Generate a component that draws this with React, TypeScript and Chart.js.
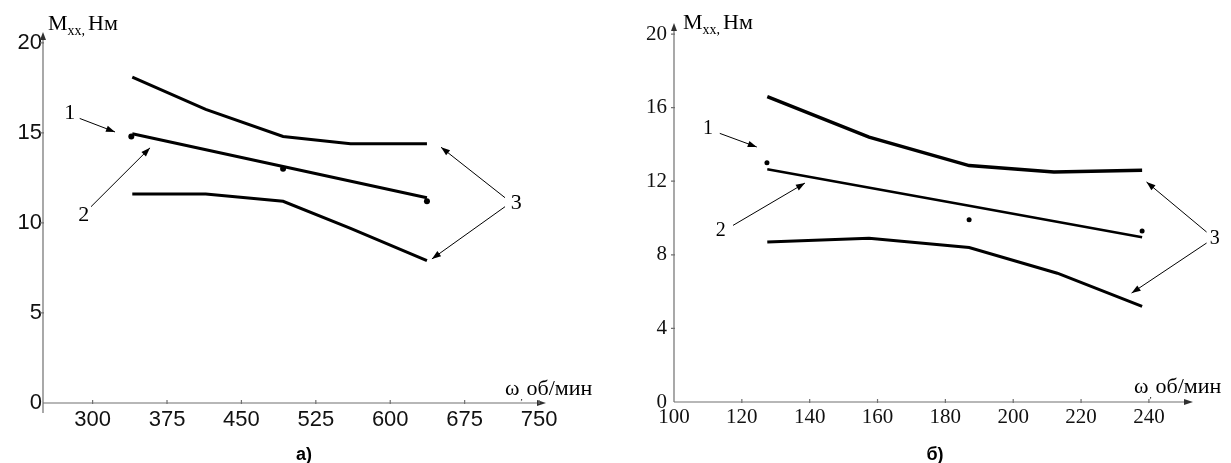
import React, { useEffect, useRef } from "react";
import { Chart, registerables } from "chart.js";
Chart.register(...registerables);

// ---------- Panel а) ----------
const aTicksX = [300, 375, 450, 525, 600, 675, 750];
const aTicksY = [0, 5, 10, 15, 20];
const aUpperX = [340, 414, 492, 560, 637];
const aUpperY = [18.1, 16.3, 14.8, 14.4, 14.4];
const aMidX = [340, 492, 637];
const aMidY = [14.95, 13.13, 11.4];
const aLowerX = [340, 414, 492, 560, 637];
const aLowerY = [11.6, 11.6, 11.2, 9.7, 7.9];
const aDotsX = [339, 492, 637];
const aDotsY = [14.8, 13.0, 11.2];

// ---------- Panel б) ----------
const bTicksX = [100, 120, 140, 160, 180, 200, 220, 240];
const bTicksY = [0, 4, 8, 12, 16, 20];
const bUpperX = [127.5, 157.5, 187, 212, 238];
const bUpperY = [16.6, 14.4, 12.85, 12.5, 12.6];
const bMidX = [127.5, 187, 238];
const bMidY = [12.65, 10.67, 8.95];
const bLowerX = [127.5, 157.5, 187, 213, 238];
const bLowerY = [8.7, 8.9, 8.4, 7.0, 5.2];
const bDotsX = [127.4, 187, 238];
const bDotsY = [13.0, 9.9, 9.3];

const yTitleMain = "М";
const yTitleSub = "хх,";
const yTitleUnit = "Нм";
const xTitleSym = "ω";
const xTitleUnit = "об/мин";

const zip = (xs: number[], ys: number[]) => xs.map((x, i) => ({ x, y: ys[i] }));

type Note = { text: string; at: [number, number]; arrows: [number, number, number, number][] };

interface PanelCfg {
  width: number;
  height: number;
  xMin: number;
  xMax: number;
  yMax: number;
  xTicks: number[];
  yTicks: number[];
  padTop: number;
  padRight: number;
  yAxisWidth: number;
  xAxisHeight: number;
  tickFamily: string;
  tickSize: number;
  xTickPad: number;
  yTickPad: number;
  yAxisExt: number;
  upper: { x: number[]; y: number[]; w: number };
  mid: { x: number[]; y: number[]; w: number };
  lower: { x: number[]; y: number[]; w: number };
  dots: { x: number[]; y: number[]; r: number };
  notes: Note[];
  noteSize: number;
  yTitleDx: number;
  yTitleDy: number;
  xTitleDx: number;
  xTitleDy: number;
  label: string;
  labelX: number;
  labelY: number;
}

const panelA: PanelCfg = {
  width: 615,
  height: 463,
  xMin: 250,
  xMax: 757,
  yMax: 20.6,
  xTicks: aTicksX,
  yTicks: aTicksY,
  padTop: 32,
  padRight: 69,
  yAxisWidth: 43,
  xAxisHeight: 60,
  tickFamily: "'Liberation Sans', Arial, sans-serif",
  tickSize: 22,
  xTickPad: 4,
  yTickPad: 1,
  yAxisExt: 10,
  upper: { x: aUpperX, y: aUpperY, w: 3 },
  mid: { x: aMidX, y: aMidY, w: 3 },
  lower: { x: aLowerX, y: aLowerY, w: 3 },
  dots: { x: aDotsX, y: aDotsY, r: 3 },
  notes: [
    { text: "1", at: [277, 16.1], arrows: [[287, 15.8, 322.6, 15.05]] },
    { text: "2", at: [291, 10.4], arrows: [[298.4, 10.9, 357.9, 14.17]] },
    { text: "3", at: [727, 11.1], arrows: [[715.7, 11.4, 651.2, 14.2], [715.7, 10.9, 642, 8.0]] },
  ],
  noteSize: 22,
  yTitleDx: 5,
  yTitleDy: -2,
  xTitleDx: -41,
  xTitleDy: -8,
  label: "а)",
  labelX: 304,
  labelY: 460,
};

const panelB: PanelCfg = {
  width: 616,
  height: 463,
  xMin: 100,
  xMax: 253,
  yMax: 20.6,
  xTicks: bTicksX,
  yTicks: bTicksY,
  padTop: 23,
  padRight: 38,
  yAxisWidth: 59,
  xAxisHeight: 61,
  tickFamily: "'Liberation Serif', 'Times New Roman', serif",
  tickSize: 21,
  xTickPad: 3,
  yTickPad: 7,
  yAxisExt: 0,
  upper: { x: bUpperX, y: bUpperY, w: 3.5 },
  mid: { x: bMidX, y: bMidY, w: 2.5 },
  lower: { x: bLowerX, y: bLowerY, w: 3 },
  dots: { x: bDotsX, y: bDotsY, r: 2.5 },
  notes: [
    { text: "1", at: [110, 14.84], arrows: [[113.5, 14.6, 124.4, 13.86]] },
    { text: "2", at: [113.8, 9.3], arrows: [[117.4, 9.6, 138.6, 11.9]] },
    { text: "3", at: [259.4, 8.9], arrows: [[257, 9.24, 239.3, 11.96], [257, 8.64, 234.9, 5.92]] },
  ],
  noteSize: 20,
  yTitleDx: 9,
  yTitleDy: 6,
  xTitleDx: -59,
  xTitleDy: -9,
  label: "б)",
  labelX: 320,
  labelY: 460,
};

function arrowHead(ctx: CanvasRenderingContext2D, x1: number, y1: number, x2: number, y2: number, len: number, hw: number) {
  const a = Math.atan2(y2 - y1, x2 - x1);
  const bx = x2 - len * Math.cos(a);
  const by = y2 - len * Math.sin(a);
  ctx.beginPath();
  ctx.moveTo(x2, y2);
  ctx.lineTo(bx + hw * Math.sin(a), by - hw * Math.cos(a));
  ctx.lineTo(bx - hw * Math.sin(a), by + hw * Math.cos(a));
  ctx.closePath();
  ctx.fill();
}

function makePlugin(p: PanelCfg) {
  return {
    id: "decor",
    afterDraw(chart: any) {
      const { ctx, chartArea } = chart;
      const xs = chart.scales.x;
      const ys = chart.scales.y;
      const X = (v: number) => xs.getPixelForValue(v);
      const Y = (v: number) => ys.getPixelForValue(v);
      const ox = X(p.xMin);
      const oy = Y(0);
      ctx.save();
      // axes
      ctx.strokeStyle = "#707070";
      ctx.fillStyle = "#303030";
      ctx.lineWidth = 1.2;
      ctx.beginPath();
      ctx.moveTo(ox, oy + p.yAxisExt);
      ctx.lineTo(ox, chartArea.top + 4);
      ctx.moveTo(ox, oy);
      ctx.lineTo(chartArea.right - 4, oy);
      ctx.stroke();
      arrowHead(ctx, ox, oy, ox, chartArea.top, 8, 3);
      arrowHead(ctx, ox, oy, chartArea.right, oy, 9, 3);
      ctx.beginPath();
      p.xTicks.forEach((v) => {
        if (v === p.xMin) return;
        const px = X(v);
        ctx.moveTo(px, oy - 3);
        ctx.lineTo(px, oy + 1);
      });
      p.yTicks.forEach((v) => {
        if (v === 0) return;
        const py = Y(v);
        ctx.moveTo(ox - 3, py);
        ctx.lineTo(ox + 1, py);
      });
      ctx.stroke();

      // annotations
      ctx.strokeStyle = "#000";
      ctx.fillStyle = "#000";
      ctx.lineWidth = 1;
      ctx.font = `${p.noteSize}px 'Liberation Serif', 'Times New Roman', serif`;
      ctx.textAlign = "center";
      ctx.textBaseline = "middle";
      p.notes.forEach((n) => {
        ctx.fillText(n.text, X(n.at[0]), Y(n.at[1]));
        n.arrows.forEach(([x1, y1, x2, y2]) => {
          const a1 = X(x1), b1 = Y(y1), a2 = X(x2), b2 = Y(y2);
          ctx.beginPath();
          ctx.moveTo(a1, b1);
          ctx.lineTo(a2, b2);
          ctx.stroke();
          arrowHead(ctx, a1, b1, a2, b2, 9, 3.2);
        });
      });

      // y-axis title
      ctx.textAlign = "left";
      ctx.textBaseline = "alphabetic";
      const serif = "'Liberation Serif', 'Times New Roman', serif";
      let tx = ox + p.yTitleDx;
      const tb = chartArea.top + p.yTitleDy;
      ctx.font = `22px ${serif}`;
      ctx.fillText(yTitleMain, tx, tb);
      tx += ctx.measureText(yTitleMain).width;
      ctx.font = `14px ${serif}`;
      ctx.fillText(yTitleSub, tx, tb + 5);
      tx += ctx.measureText(yTitleSub).width + 3;
      ctx.font = `22px ${serif}`;
      ctx.fillText(yTitleUnit, tx, tb);

      // x-axis title
      let wx = chartArea.right + p.xTitleDx;
      const wb = oy + p.xTitleDy;
      ctx.font = `22px ${serif}`;
      ctx.fillText(xTitleSym, wx, wb);
      wx += ctx.measureText(xTitleSym).width;
      ctx.font = `9px ${serif}`;
      ctx.fillText(",", wx + 1, wb + 5);
      wx += 7;
      ctx.font = `22px ${serif}`;
      ctx.fillText(xTitleUnit, wx, wb);

      // panel label
      ctx.textAlign = "center";
      ctx.font = "bold 18px 'Liberation Sans', Arial, sans-serif";
      ctx.fillText(p.label, p.labelX, p.labelY);
      ctx.restore();
    },
  };
}

function Panel({ cfg, left }: { cfg: PanelCfg; left: number }) {
  const ref = useRef<HTMLCanvasElement>(null);
  useEffect(() => {
    const p = cfg;
    const chart = new Chart(ref.current as HTMLCanvasElement, {
      type: "line",
      data: {
        datasets: [
          { data: zip(p.upper.x, p.upper.y), borderColor: "#000", borderWidth: p.upper.w, pointRadius: 0, tension: 0, fill: false },
          { data: zip(p.mid.x, p.mid.y), borderColor: "#000", borderWidth: p.mid.w, pointRadius: 0, tension: 0, fill: false },
          { data: zip(p.lower.x, p.lower.y), borderColor: "#000", borderWidth: p.lower.w, pointRadius: 0, tension: 0, fill: false },
          {
            data: zip(p.dots.x, p.dots.y),
            showLine: false,
            pointRadius: p.dots.r,
            pointBackgroundColor: "#000",
            pointBorderWidth: 0,
            borderColor: "#000",
          },
        ],
      },
      options: {
        animation: false,
        responsive: false,
        devicePixelRatio: 1,
        events: [],
        layout: { padding: { top: p.padTop, right: p.padRight, left: 0, bottom: 0 } },
        plugins: { legend: { display: false }, tooltip: { enabled: false } },
        scales: {
          x: {
            type: "linear",
            min: p.xMin,
            max: p.xMax,
            grid: { display: false, drawTicks: false },
            border: { display: false },
            afterBuildTicks: (s: any) => {
              s.ticks = p.xTicks.map((v) => ({ value: v }));
            },
            afterFit: (s: any) => {
              s.height = p.xAxisHeight;
            },
            ticks: {
              autoSkip: false,
              maxRotation: 0,
              padding: p.xTickPad,
              color: "#111",
              font: { family: p.tickFamily, size: p.tickSize },
              callback: (v: any) => String(v),
            },
          },
          y: {
            type: "linear",
            min: 0,
            max: p.yMax,
            grid: { display: false, drawTicks: false },
            border: { display: false },
            afterBuildTicks: (s: any) => {
              s.ticks = p.yTicks.map((v) => ({ value: v }));
            },
            afterFit: (s: any) => {
              s.width = p.yAxisWidth;
            },
            ticks: {
              padding: p.yTickPad,
              color: "#111",
              font: { family: p.tickFamily, size: p.tickSize },
              callback: (v: any) => String(v),
            },
          },
        },
      },
      plugins: [makePlugin(p)],
    } as any);
    return () => chart.destroy();
  }, [cfg]);
  return (
    <div style={{ position: "absolute", left, top: 0, width: cfg.width, height: cfg.height }}>
      <canvas ref={ref} width={cfg.width} height={cfg.height} style={{ display: "block" }} />
    </div>
  );
}

export default function App() {
  return (
    <div style={{ position: "fixed", left: 0, top: 0, width: 1231, height: 463, background: "#fff" }}>
      <Panel cfg={panelA} left={0} />
      <Panel cfg={panelB} left={615} />
    </div>
  );
}
